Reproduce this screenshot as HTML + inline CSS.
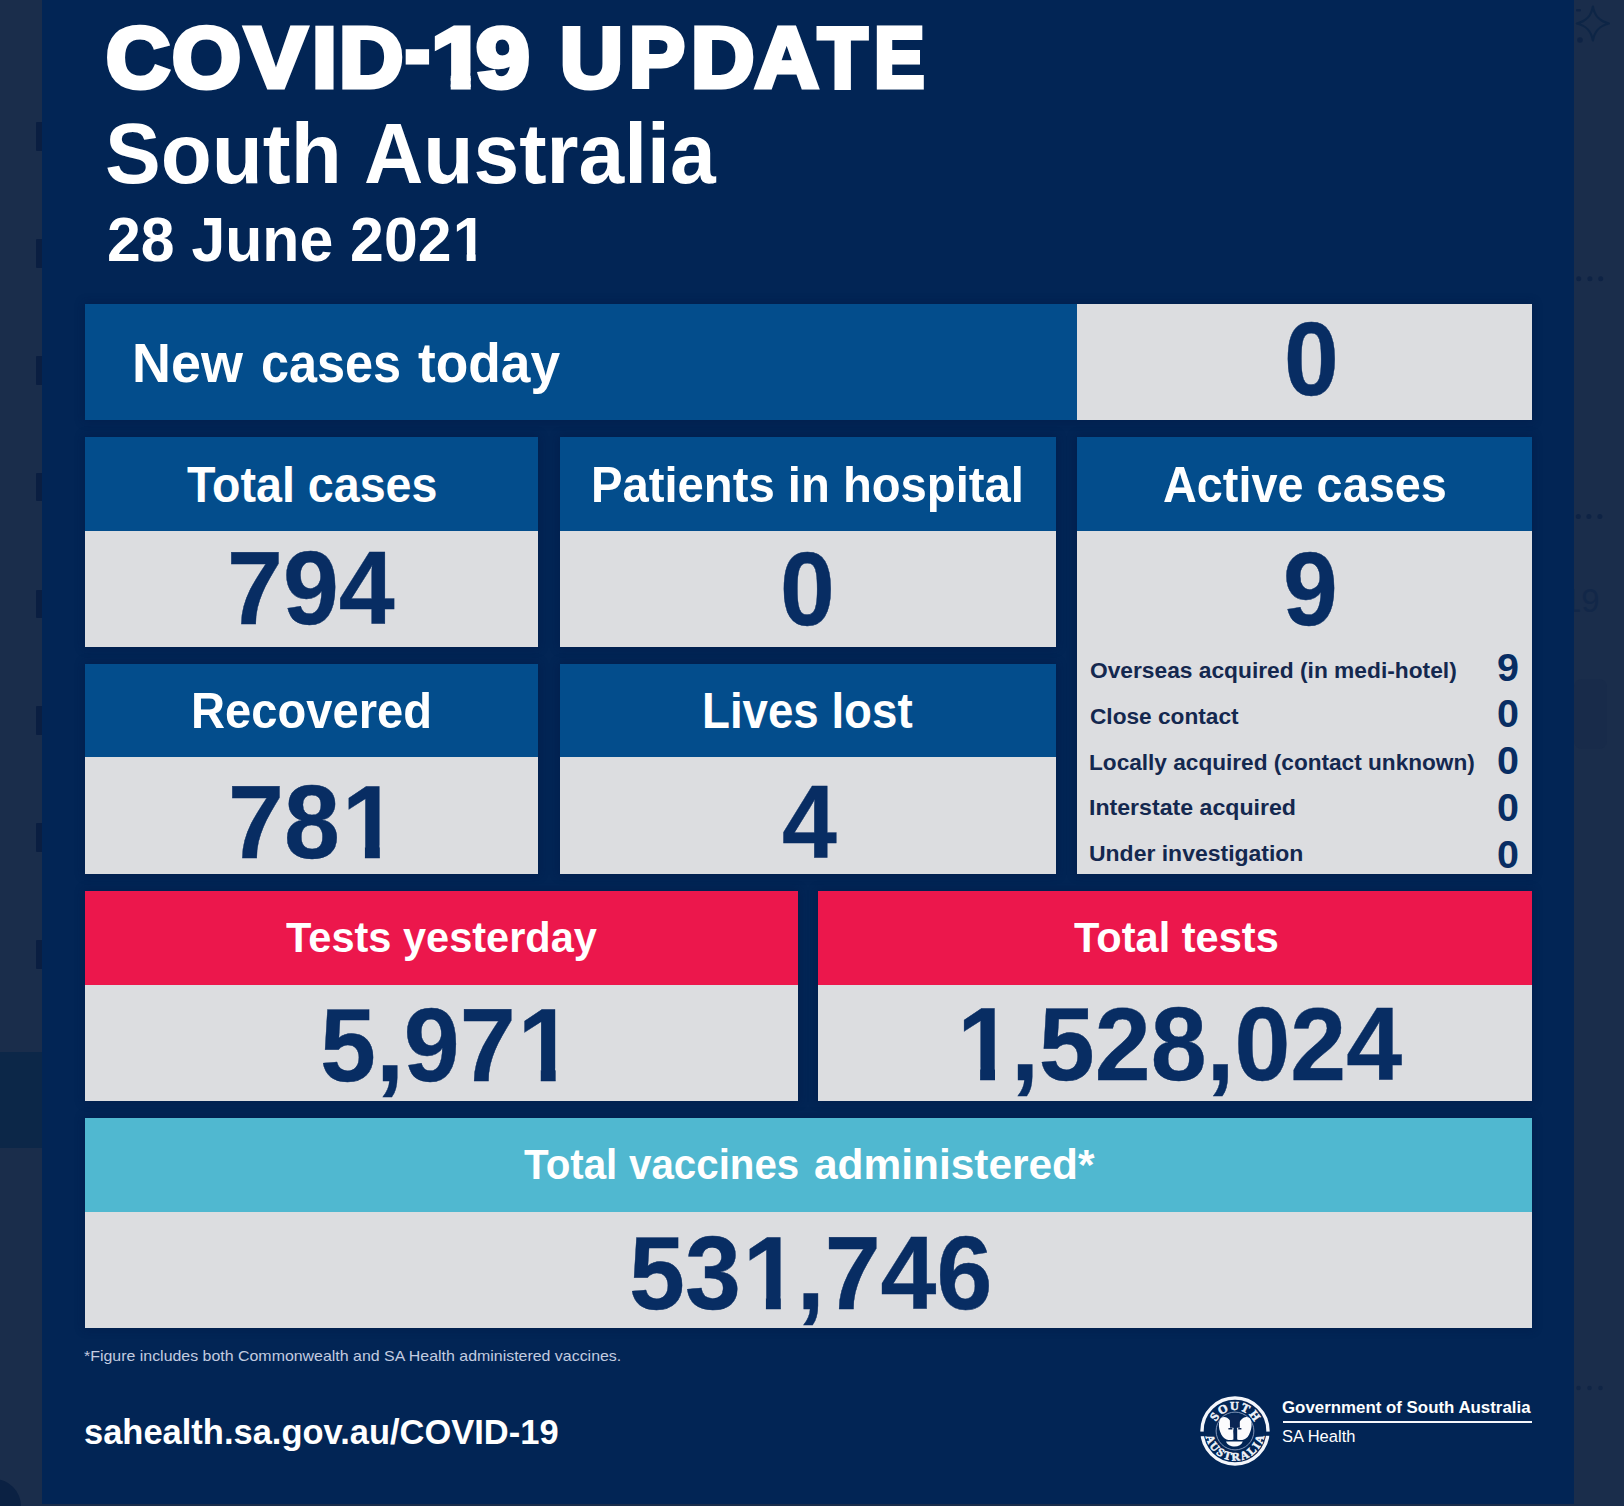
<!DOCTYPE html>
<html lang="en"><head><meta charset="utf-8"><title>COVID-19 Update - South Australia - 28 June 2021</title>
<style>
html,body{margin:0;padding:0}
body{width:1624px;height:1506px;overflow:hidden;background:#1a2d4b;position:relative;font-family:"Liberation Sans",sans-serif}
.panel{position:absolute;left:41.8px;top:0;width:1532.1px;height:1504.2px;background:#022555}
.b{position:absolute}
.sh{box-shadow:0 0 8px 2px rgba(4,22,66,.32)}
.blue{background:#034d8c}.gray{background:#dcdde0}.red{background:#ec174c}.teal{background:#50b8d0}
.t{position:absolute;white-space:nowrap;line-height:1;font-weight:700;color:#fff;transform-origin:0 0}
.o{display:inline-block;position:relative;left:.022em;clip-path:polygon(0 0,100% 0,100% .72em,.376em .72em,.376em 1.2em,.228em 1.2em,.228em .72em,0 .72em)}
.o2{display:inline-block;clip-path:polygon(0 0,120% 0,120% .69em,.403em .69em,.403em 1.2em,.2em 1.2em,.2em .69em,0 .69em)}
.bg{position:absolute}
.mk{left:35.6px;width:6.4px;height:28.6px;background:#0a1e41;border-radius:1px 0 0 1px}
</style></head><body>
<div class="bg" style="left:0;top:1052.4px;width:42px;height:95.6px;background:#0c2748"></div>
<div class="bg" style="left:-33px;top:1479px;width:54px;height:54px;border-radius:50%;background:#0b2143"></div>
<div class="bg mk" style="top:122.4px"></div><div class="bg mk" style="top:239.2px"></div><div class="bg mk" style="top:356px"></div><div class="bg mk" style="top:472.8px"></div><div class="bg mk" style="top:589.6px"></div><div class="bg mk" style="top:706.4px"></div><div class="bg mk" style="top:823.2px"></div><div class="bg mk" style="top:940px"></div>
<svg class="bg" style="left:1574px;top:0" width="50" height="1506" viewBox="1574 0 50 1506" fill="#0e2345">
<path d="M1592.9 6.5 C1594.5 16 1599 21 1609 23.5 C1599 26 1594.5 31 1592.9 40.5 C1591.3 31 1586.8 26 1576.8 23.5 C1586.8 21 1591.3 16 1592.9 6.5Z" fill="none" stroke="#0d2546" stroke-width="2.2" stroke-linejoin="round"/>
<circle cx="1580" cy="40" r="2.8"/><rect x="1576" y="9" width="5" height="2.4" rx="1"/>
<circle cx="1578.7" cy="278.7" r="2.5"/><circle cx="1589.9" cy="278.7" r="2.5"/><circle cx="1600.7" cy="278.7" r="2.5"/>
<circle cx="1578.3" cy="516.5" r="2.5"/><circle cx="1588.9" cy="516.5" r="2.5"/><circle cx="1599.9" cy="516.5" r="2.5"/>
<circle cx="1578.5" cy="1388" r="2.3" opacity=".8"/><circle cx="1589.5" cy="1388" r="2.3" opacity=".8"/><circle cx="1600.5" cy="1388" r="2.3" opacity=".8"/>
<text x="1563" y="612" font-family="Liberation Sans, sans-serif" font-size="33" fill="#122748">19</text>
<rect x="1574" y="679" width="33" height="70" rx="8" fill="#18294a" opacity=".6"/>
</svg>

<div class="panel"></div>
<div class="b sh" style="left:84.5px;top:304.0px;width:1447.3px;height:115.8px"></div>
<div class="b sh" style="left:84.5px;top:436.5px;width:453.9px;height:210.6px"></div>
<div class="b sh" style="left:559.8px;top:436.5px;width:496.6px;height:210.6px"></div>
<div class="b sh" style="left:1077.0px;top:436.5px;width:454.8px;height:437.7px"></div>
<div class="b sh" style="left:84.5px;top:663.7px;width:453.9px;height:210.3px"></div>
<div class="b sh" style="left:559.8px;top:663.7px;width:496.6px;height:210.3px"></div>
<div class="b sh" style="left:84.5px;top:891.0px;width:713.5px;height:210.1px"></div>
<div class="b sh" style="left:818.2px;top:891.0px;width:713.6px;height:210.1px"></div>
<div class="b sh" style="left:84.5px;top:1117.7px;width:1447.3px;height:210.5px"></div>
<div class="b blue" style="left:84.5px;top:304.0px;width:992.5px;height:115.8px"></div>
<div class="b gray" style="left:1077.0px;top:304.0px;width:454.8px;height:115.8px"></div>
<div class="b blue" style="left:84.5px;top:436.5px;width:453.9px;height:94.0px"></div>
<div class="b gray" style="left:84.5px;top:530.5px;width:453.9px;height:116.6px"></div>
<div class="b blue" style="left:559.8px;top:436.5px;width:496.6px;height:94.0px"></div>
<div class="b gray" style="left:559.8px;top:530.5px;width:496.6px;height:116.6px"></div>
<div class="b blue" style="left:1077.0px;top:436.5px;width:454.8px;height:94.0px"></div>
<div class="b gray" style="left:1077.0px;top:530.5px;width:454.8px;height:343.7px"></div>
<div class="b blue" style="left:84.5px;top:663.7px;width:453.9px;height:93.0px"></div>
<div class="b gray" style="left:84.5px;top:756.7px;width:453.9px;height:117.3px"></div>
<div class="b blue" style="left:559.8px;top:663.7px;width:496.6px;height:93.0px"></div>
<div class="b gray" style="left:559.8px;top:756.7px;width:496.6px;height:117.3px"></div>
<div class="b red" style="left:84.5px;top:891.0px;width:713.5px;height:93.7px"></div>
<div class="b gray" style="left:84.5px;top:984.7px;width:713.5px;height:116.4px"></div>
<div class="b red" style="left:818.2px;top:891.0px;width:713.6px;height:93.7px"></div>
<div class="b gray" style="left:818.2px;top:984.7px;width:713.6px;height:116.4px"></div>
<div class="b teal" style="left:84.5px;top:1117.7px;width:1447.3px;height:94.0px"></div>
<div class="b gray" style="left:84.5px;top:1211.7px;width:1447.3px;height:116.5px"></div>
<div class="t" style="left:105.77px;top:14px;font-size:86.0px;transform:scaleX(1.0306);-webkit-text-stroke-width:5px;">C</div>
<div class="t" style="left:172.27px;top:14px;font-size:86.0px;transform:scaleX(1.0308);-webkit-text-stroke-width:5px;">O</div>
<div class="t" style="left:244.93px;top:14px;font-size:86.0px;transform:scaleX(1.0762);-webkit-text-stroke-width:5px;">V</div>
<div class="t" style="left:312.16px;top:14px;font-size:86.0px;transform:scaleX(1.0412);-webkit-text-stroke-width:5px;">I</div>
<div class="t" style="left:338.67px;top:14px;font-size:86.0px;transform:scaleX(1.0365);-webkit-text-stroke-width:5px;">D</div>
<div class="t" style="left:405.33px;top:6px;font-size:86.0px;transform:scaleX(0.8679);-webkit-text-stroke-width:5px;">-</div>
<div class="t" style="left:430.59px;top:14px;font-size:86.0px;transform:scaleX(1.1460);-webkit-text-stroke-width:5px;"><span class="o2">1</span></div>
<div class="t" style="left:476.44px;top:14px;font-size:86.0px;transform:scaleX(1.1226);-webkit-text-stroke-width:5px;">9</div>
<div class="t" style="left:560.47px;top:14px;font-size:86.0px;transform:scaleX(1.0123);-webkit-text-stroke-width:5px;">U</div>
<div class="t" style="left:628.59px;top:14px;font-size:86.0px;transform:scaleX(0.9757);-webkit-text-stroke-width:5px;">P</div>
<div class="t" style="left:691.23px;top:14px;font-size:86.0px;transform:scaleX(1.0209);-webkit-text-stroke-width:5px;">D</div>
<div class="t" style="left:755.13px;top:14px;font-size:86.0px;transform:scaleX(1.0215);-webkit-text-stroke-width:5px;">A</div>
<div class="t" style="left:817.81px;top:14px;font-size:86.0px;transform:scaleX(0.9405);-webkit-text-stroke-width:5px;">T</div>
<div class="t" style="left:873.72px;top:14px;font-size:86.0px;transform:scaleX(0.8811);-webkit-text-stroke-width:5px;">E</div>
<div class="t" style="left:105.27px;top:110px;font-size:86.0px;transform:scaleX(0.9716);">South</div>
<div class="t" style="left:364.09px;top:110px;font-size:86.0px;transform:scaleX(0.9555);">Australia</div>
<div class="t" style="left:106.67px;top:208px;font-size:63.0px;transform:scaleX(0.9643);">28 June 202<span class="o">1</span></div>
<div class="t" style="left:132.06px;top:336px;font-size:54.9px;transform:scaleX(0.9826);">New</div>
<div class="t" style="left:261.16px;top:336px;font-size:54.9px;transform:scaleX(0.9178);">cases</div>
<div class="t" style="left:417.71px;top:336px;font-size:54.9px;transform:scaleX(0.9711);">today</div>
<div class="t" style="left:186.53px;top:460px;font-size:49.4px;transform:scaleX(0.9437);">Total cases</div>
<div class="t" style="left:591.35px;top:460px;font-size:49.4px;transform:scaleX(0.9561);">Patients in hospital</div>
<div class="t" style="left:1162.68px;top:460px;font-size:49.4px;transform:scaleX(0.9483);">Active cases</div>
<div class="t" style="left:190.76px;top:686px;font-size:49.4px;transform:scaleX(0.9545);">Recovered</div>
<div class="t" style="left:702.26px;top:686px;font-size:49.4px;transform:scaleX(0.9244);">Lives lost</div>
<div class="t" style="left:286.41px;top:916px;font-size:42.7px;transform:scaleX(0.9730);">Tests yesterday</div>
<div class="t" style="left:1074.01px;top:916px;font-size:42.7px;transform:scaleX(0.9736);">Total tests</div>
<div class="t" style="left:524.33px;top:1143px;font-size:42.7px;transform:scaleX(0.9442);">Total</div>
<div class="t" style="left:629.33px;top:1143px;font-size:42.7px;transform:scaleX(0.9438);">vaccines</div>
<div class="t" style="left:813.51px;top:1143px;font-size:42.7px;transform:scaleX(0.9936);">administered*</div>
<div class="t" style="left:1283.64px;top:308px;font-size:103.1px;color:#082d63;transform:scaleX(0.9550);-webkit-text-stroke-width:0.4px;">0</div>
<div class="t" style="left:226.84px;top:537px;font-size:103.1px;color:#082d63;transform:scaleX(0.9750);-webkit-text-stroke-width:0.4px;">794</div>
<div class="t" style="left:779.69px;top:538px;font-size:103.1px;color:#082d63;transform:scaleX(0.9550);-webkit-text-stroke-width:0.4px;">0</div>
<div class="t" style="left:1283.03px;top:538px;font-size:103.1px;color:#082d63;transform:scaleX(0.9550);-webkit-text-stroke-width:0.4px;">9</div>
<div class="t" style="left:227.70px;top:771px;font-size:103.1px;color:#082d63;transform:scaleX(0.9750);-webkit-text-stroke-width:0.4px;">78<span class="o">1</span></div>
<div class="t" style="left:781.62px;top:771px;font-size:103.1px;color:#082d63;transform:scaleX(0.9550);-webkit-text-stroke-width:0.4px;">4</div>
<div class="t" style="left:319.77px;top:994px;font-size:103.1px;color:#082d63;transform:scaleX(0.9750);-webkit-text-stroke-width:0.4px;">5,97<span class="o">1</span></div>
<div class="t" style="left:955.15px;top:993px;font-size:103.1px;color:#082d63;transform:scaleX(0.9750);-webkit-text-stroke-width:0.4px;"><span class="o">1</span>,528,024</div>
<div class="t" style="left:628.85px;top:1222px;font-size:103.1px;color:#082d63;transform:scaleX(0.9750);-webkit-text-stroke-width:0.4px;">53<span class="o">1</span>,746</div>
<div class="t" style="left:1089.60px;top:659px;font-size:22.7px;color:#14284f;transform:scaleX(1.0030);">Overseas acquired (in medi-hotel)</div>
<div class="t" style="left:1089.60px;top:705px;font-size:22.7px;color:#14284f;transform:scaleX(0.9986);">Close contact</div>
<div class="t" style="left:1089.10px;top:751px;font-size:22.7px;color:#14284f;transform:scaleX(0.9969);">Locally acquired (contact unknown)</div>
<div class="t" style="left:1089.07px;top:796px;font-size:22.7px;color:#14284f;transform:scaleX(1.0195);">Interstate acquired</div>
<div class="t" style="left:1089.08px;top:842px;font-size:22.7px;color:#14284f;transform:scaleX(1.0124);">Under investigation</div>
<div class="t" style="left:1497.01px;top:648px;font-size:39.7px;color:#082d63;transform:scaleX(0.9947);">9</div>
<div class="t" style="left:1497.01px;top:694px;font-size:39.7px;color:#082d63;transform:scaleX(0.9947);">0</div>
<div class="t" style="left:1497.01px;top:741px;font-size:39.7px;color:#082d63;transform:scaleX(0.9947);">0</div>
<div class="t" style="left:1497.01px;top:788px;font-size:39.7px;color:#082d63;transform:scaleX(0.9947);">0</div>
<div class="t" style="left:1497.01px;top:835px;font-size:39.7px;color:#082d63;transform:scaleX(0.9947);">0</div>
<div class="t" style="left:84.47px;top:1348px;font-size:15.0px;font-weight:400;color:#c3cce0;transform:scaleX(1.0615);">*Figure includes both Commonwealth and SA Health administered vaccines.</div>
<div class="t" style="left:83.99px;top:1415px;font-size:34.3px;transform:scaleX(1.0053);">sahealth.sa.gov.au/COVID-19</div>
<div class="t" style="left:1282.49px;top:1400px;font-size:16.6px;transform:scaleX(1.0160);">Government of South Australia</div>
<div class="t" style="left:1282.02px;top:1429px;font-size:16.8px;font-weight:400;transform:scaleX(0.9834);">SA Health</div>
<svg class="bg" style="left:1196px;top:1392px" width="78" height="78" viewBox="-39 -39 78 78" role="img" aria-label="Government of South Australia">
<defs><path id="at" d="M-21 0A21 21 0 0 1 21 0"/><path id="ab" d="M-29.6 0A29.6 29.6 0 0 0 29.6 0"/></defs>
<circle r="33" fill="none" stroke="#f4f6fb" stroke-width="3.4"/>
<rect x="-36" y="0.6" width="6" height="4.6" fill="#022555"/><rect x="30" y="0.6" width="6" height="4.2" fill="#022555"/>
<circle r="18.9" fill="none" stroke="#8fa0c2" stroke-width="0.9"/>
<g font-family="Liberation Serif, serif" font-weight="700" fill="#eef1f8" stroke="#eef1f8" stroke-width="0.55" text-anchor="middle">
<text font-size="12.2" letter-spacing="1.1"><textPath href="#at" startOffset="51%">SOUTH</textPath></text>
<text font-size="11.6" letter-spacing="1.75"><textPath href="#ab" startOffset="51%">AUSTRALIA</textPath></text>
</g>
<path d="M-1.2 -2.5C-4 -12 -9 -16 -14 -13C-17.5 -9 -16.5 0 -12 6C-8.5 9.5 -4 9.6 -1.6 8.4L-1.6 -2.5ZM1.8 -2.5C4.6 -12 9.6 -16 14.6 -13C18 -9 17 0 12.6 6C9 9.5 4.6 9.6 2.2 8.4L2.2 -2.5Z" fill="#fbfbfd"/>
<path d="M-5.2 -16.4L4.6 -16.4L4.9 -3.2L-5 -3.2Z" fill="#0a2554"/>
<path d="M-6.6 -2.9L-2.6 -2.9L-2.6 -1.6L-6.6 -1.6ZM3.2 -2.9L6.4 -2.9L6.4 -1.6L3.2 -1.6Z" fill="#0a2554"/>
<path d="M-1.6 -0.6L1.3 -0.6L0.9 8L-0.3 8.6Z" fill="#0a2554"/>
<path d="M-9 10.4L7.8 10.4C6.6 13.6 3.4 15.4 -0.4 15.4C-4.4 15.4 -7.8 13.6 -9 10.4Z" fill="#fbfbfd"/>
</svg>
<div class="bg" style="left:1283px;top:1420.7px;width:248.6px;height:2.6px;background:#f6f7fb"></div>

</body></html>
